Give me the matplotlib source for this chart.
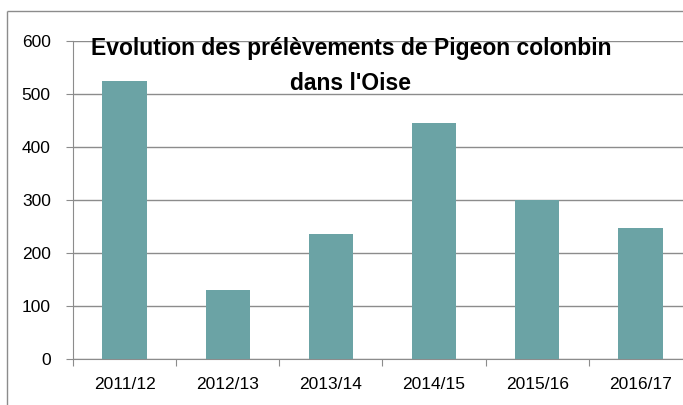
import matplotlib
matplotlib.use("Agg")
import matplotlib.pyplot as plt
from matplotlib.lines import Line2D
import numpy as np

categories = ["2011/12", "2012/13", "2013/14", "2014/15", "2015/16", "2016/17"]
values = [525, 130, 235, 445, 300, 247]
yticks = [0, 100, 200, 300, 400, 500, 600]
title_lines = ["Evolution des prélèvements de Pigeon colonbin", "dans l'Oise"]

plt.rcParams['font.family'] = ['Liberation Sans', 'DejaVu Sans']

W, H = 683, 405
fig = plt.figure(figsize=(W/100, H/100), dpi=100)
fig.patch.set_facecolor('white')
fig.patch.set_linewidth(0)

ax = fig.add_axes([73/W, 46/H, 619/W, 318/H])
x = np.arange(len(categories))
ax.bar(x, values, width=0.43, color='#6BA3A5', zorder=3)
ax.set_xlim(-0.5, len(categories) - 0.5)
ax.set_ylim(0, 600)
ax.set_yticks(yticks)
ax.yaxis.grid(True, color='#8C8C8C', linewidth=1, zorder=0)
for s in ['top', 'right']:
    ax.spines[s].set_visible(False)
ax.spines['left'].set_color('#8C8C8C')
ax.spines['bottom'].set_color('#8C8C8C')
ax.tick_params(axis='y', length=5, color='#8C8C8C', labelsize=12.5, pad=11)

ax.set_xticks(np.arange(-0.5, len(categories) - 0.5, 1.0))
ax.set_xticklabels([])
ax.tick_params(axis='x', which='major', length=5, color='#8C8C8C')
ax.set_xticks(x, minor=True)
ax.set_xticklabels(categories, minor=True)
ax.tick_params(axis='x', which='minor', length=0, labelsize=12.5, pad=13)

fig.text(351/W, 1 - 48/H, title_lines[0], ha='center', va='center', fontsize=16.5, fontweight='bold')
fig.text(351/W, 1 - 84/H, title_lines[1], ha='center', va='center', fontsize=16.5, fontweight='bold')

# chart-area border (only left and top edges are inside the image)
fx, fy = 6.5/W, 1 - 10.5/H
fig.add_artist(Line2D([fx, fx], [-0.05, fy], transform=fig.transFigure, color='#8C8C8C',
                      linewidth=1, solid_capstyle='butt'))
fig.add_artist(Line2D([fx, 1.05], [fy, fy], transform=fig.transFigure, color='#8C8C8C',
                      linewidth=1, solid_capstyle='butt'))

fig.savefig("out.png", dpi=100)
